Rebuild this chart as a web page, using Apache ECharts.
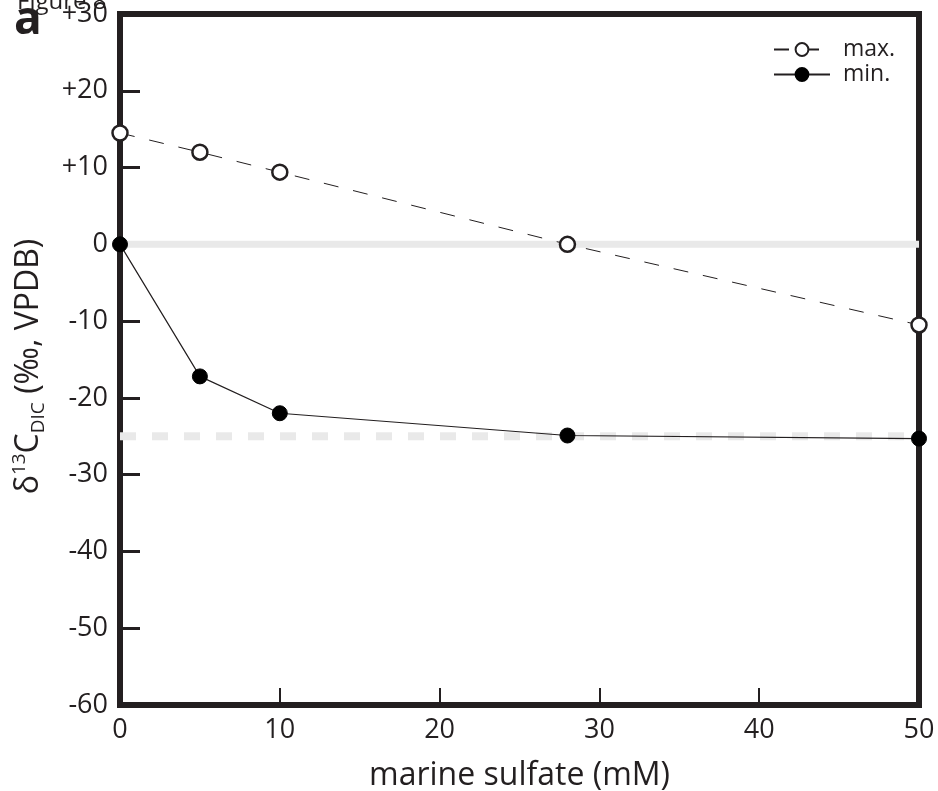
<!DOCTYPE html>
<html>
<head>
<meta charset="utf-8">
<script src="https://cdn.jsdelivr.net/npm/echarts@6/dist/echarts.min.js"></script>
<style>html,body{margin:0;padding:0;background:#fff;}#c{width:938px;height:791px;}</style>
</head>
<body>
<div id="c"></div>
<script>
var sulfate = [0, 5, 10, 28, 50];
var maxValues = [14.5, 12.0, 9.4, 0, -10.5];
var minValues = [0, -17.2, -22.0, -24.9, -25.3];
var refSolid = 0;
var refDashed = -25;
var yTicks = [30, 20, 10, 0, -10, -20, -30, -40, -50, -60];
var xTicks = [0, 10, 20, 30, 40, 50];

var FONT = 'Open Sans';
var INK = '#231f20';

function pairs(xs, ys) { return xs.map(function (x, i) { return [x, ys[i]]; }); }
var xExtent = [xTicks[0], xTicks[xTicks.length - 1]];

var chart = echarts.init(document.getElementById('c'));
chart.setOption({
  animation: false,
  backgroundColor: '#fff',
  textStyle: { fontFamily: FONT, color: INK },
  grid: { left: 120, right: 19, top: 14, bottom: 86, show: true, borderWidth: 6, borderColor: INK,
    backgroundColor: 'transparent', outerBoundsMode: 'none', containLabel: false },
  graphic: [
    { type: 'text', left: 17, top: -10, style: { text: 'Figure 8', font: '24px ' + FONT, fill: INK } },
    { type: 'text', left: 14, top: -2, style: { text: 'a', font: 'bold 46px ' + FONT, fill: INK } }
  ],
  legend: {
    orient: 'vertical', left: 768, top: 33, itemWidth: 56, itemHeight: 16, itemGap: 2,
    textStyle: { fontFamily: FONT, fontSize: 23, color: INK, padding: [0, 0, 0, 8] },
    data: ['max.', 'min.']
  },
  xAxis: {
    type: 'value', min: 0, max: 50, interval: 10,
    name: 'marine sulfate (mM)', nameLocation: 'middle', nameGap: 55,
    nameTextStyle: { fontFamily: FONT, fontSize: 32, color: INK },
    axisLine: { show: false, onZero: false },
    axisTick: { show: true, inside: true, length: 17, lineStyle: { color: INK, width: 2 } },
    axisLabel: { fontFamily: FONT, fontSize: 27, color: INK, margin: 12,
      formatter: function (v) { return xTicks.indexOf(v) >= 0 ? String(v) : ''; } },
    splitLine: { show: false }
  },
  yAxis: {
    type: 'value', min: -60, max: 30, interval: 10,
    name: '{d|δ}{sup|13}{d|C}{sub|DIC}{d| (‰, VPDB)}', nameLocation: 'middle', nameGap: 62, nameRotate: 90,
    nameTextStyle: {
      fontFamily: FONT, color: INK, padding: [0, 14, 0, 0],
      rich: {
        d: { fontFamily: FONT, fontSize: 32, color: INK, lineHeight: 44, verticalAlign: 'middle' },
        sup: { fontFamily: FONT, fontSize: 19, color: INK, lineHeight: 44, verticalAlign: 'top', padding: [3, 0, 0, 0] },
        sub: { fontFamily: FONT, fontSize: 19, color: INK, lineHeight: 44, verticalAlign: 'bottom', padding: [0, 0, 3, 0] }
      }
    },
    axisLine: { show: false, onZero: false },
    axisTick: { show: true, inside: true, length: 20, lineStyle: { color: INK, width: 3 } },
    axisLabel: { fontFamily: FONT, fontSize: 27, color: INK, margin: 12,
      formatter: function (v) { return v > 0 ? '+' + v : String(v); } },
    splitLine: { show: false }
  },
  series: [
    { name: 'refSolid', type: 'line', silent: true, symbol: 'none', z: 1,
      data: pairs(xExtent, [refSolid, refSolid]),
      lineStyle: { color: '#e9e9e9', width: 7 } },
    { name: 'refDashed', type: 'line', silent: true, symbol: 'none', z: 1,
      data: pairs(xExtent, [refDashed, refDashed]),
      lineStyle: { color: '#e9e9e9', width: 8, type: [16, 16] } },
    { name: 'max.', type: 'line', data: pairs(sulfate, maxValues), z: 5,
      symbol: 'circle', symbolSize: 15,
      itemStyle: { color: '#fff', borderColor: INK, borderWidth: 2.5 },
      lineStyle: { color: INK, width: 1, type: [15, 15] } },
    { name: 'min.', type: 'line', data: pairs(sulfate, minValues), z: 5,
      symbol: 'circle', symbolSize: 15,
      itemStyle: { color: '#000', borderColor: '#000', borderWidth: 1 },
      lineStyle: { color: INK, width: 1.2 } }
  ]
});
</script>
</body>
</html>
